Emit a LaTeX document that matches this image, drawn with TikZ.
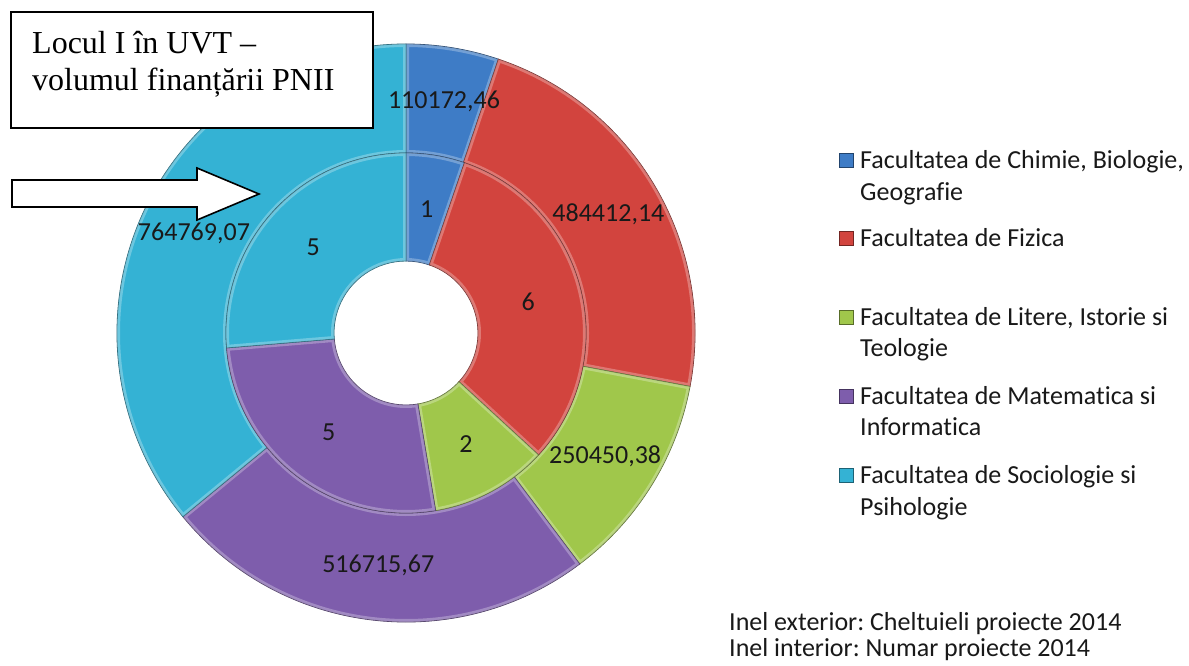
\documentclass[tikz,border=0pt]{standalone}
\usepackage{fontspec}
\setmainfont{Liberation Serif}
\newfontfamily\calfont[Ligatures=NoCommon]{Carlito}
\definecolor{cblue}{RGB}{62,124,198}
\definecolor{cred}{RGB}{210,68,62}
\definecolor{cgreen}{RGB}{160,199,75}
\definecolor{cpurple}{RGB}{126,93,172}
\definecolor{ccyan}{RGB}{52,178,212}
\frenchspacing
\begin{document}
\begin{tikzpicture}[x=1pt,y=1pt,
  lab/.style={font=\calfont\fontsize{26}{31}\selectfont, text=black!90, inner sep=0},
  leg/.style={font=\calfont\fontsize{26}{31}\selectfont, text=black!90, inner sep=0, anchor=base west},
  mk/.style={minimum size=14, inner sep=0, draw=#1!55!black, fill=#1, line width=0.6},
  seg/.style={fill=#1, draw=#1!55!black, line width=0.8},
  bev/.style={draw=white, opacity=0.28, line width=6},
  ttl/.style={font=\fontsize{32}{37}\selectfont, inner sep=0, anchor=base west}]
\useasboundingbox (0,0) rectangle (1189,-665);
\fill[white] (0,0) rectangle (1189,-665);
% donut chart
\begin{scope}[shift={(406,-333)}]
  \foreach \a/\b/\c in {90/71.35/cblue, 71.35/-10.66/cred, -10.66/-53.06/cgreen, -53.06/-140.54/cpurple, -140.54/-270/ccyan} {
    \filldraw[seg=\c] (\a:180) arc[start angle=\a, end angle=\b, radius=180] -- (\b:289) arc[start angle=\b, end angle=\a, radius=289] -- cycle;
    \begin{scope}
      \clip (\a:180) arc[start angle=\a, end angle=\b, radius=180] -- (\b:289) arc[start angle=\b, end angle=\a, radius=289] -- cycle;
      \draw[bev] (\a:180) arc[start angle=\a, end angle=\b, radius=180] -- (\b:289) arc[start angle=\b, end angle=\a, radius=289] -- cycle;
    \end{scope}
  }
  \foreach \a/\b/\c in {90/71.05/cblue, 71.05/-42.63/cred, -42.63/-80.53/cgreen, -80.53/-175.26/cpurple, -175.26/-270/ccyan} {
    \filldraw[seg=\c] (\a:72) arc[start angle=\a, end angle=\b, radius=72] -- (\b:180) arc[start angle=\b, end angle=\a, radius=180] -- cycle;
    \begin{scope}
      \clip (\a:72) arc[start angle=\a, end angle=\b, radius=72] -- (\b:180) arc[start angle=\b, end angle=\a, radius=180] -- cycle;
      \draw[bev] (\a:72) arc[start angle=\a, end angle=\b, radius=72] -- (\b:180) arc[start angle=\b, end angle=\a, radius=180] -- cycle;
    \end{scope}
  }
  \foreach \a/\b/\t [count=\i] in {90/71.35/{110172,46}, 71.35/-10.66/{484412,14}, -10.66/-53.06/{250450,38}, -53.06/-140.54/{516715,67}, -140.54/-270/{764769,07}}
    \node[lab] (o\i) at ({(\a+\b)/2}:234.5) {\t};
  \foreach \a/\b/\t [count=\i] in {90/71.05/1, 71.05/-42.63/6, -42.63/-80.53/2, -80.53/-175.26/5, -175.26/-270/5}
    \node[lab] (n\i) at ({(\a+\b)/2}:126) {\t};
\end{scope}
% title box and arrow
\node[draw, line width=2, minimum width=362, minimum height=116, inner sep=0, fill=white] (box) at (192,-70) {};
\node[ttl] (t1) at (32,-53) {Locul I în UVT –};
\node[ttl] (t2) at (32,-90) {volumul finanțării PNII};
\draw[line width=1.6, fill=white, line join=miter] (12,-180) -- (197,-180) -- (197,-168) -- (259,-194) -- (197,-220) -- (197,-207) -- (12,-207) -- cycle;
% legend
\node[mk=cblue] (m1) at (846,-160.5) {};
\node[leg] (l1) at (860,-168) {Facultatea de Chimie, Biologie,};
\node[leg] (l1b) at (860,-200) {Geografie};
\node[mk=cred] (m2) at (846,-238.5) {};
\node[leg] (l2) at (860,-246) {Facultatea de Fizica};
\node[mk=cgreen] (m3) at (846,-317.5) {};
\node[leg] (l3) at (860,-325) {Facultatea de Litere, Istorie si};
\node[leg] (l3b) at (860,-356) {Teologie};
\node[mk=cpurple] (m4) at (846,-396.5) {};
\node[leg] (l4) at (860,-404) {Facultatea de Matematica si};
\node[leg] (l4b) at (860,-435) {Informatica};
\node[mk=ccyan] (m5) at (846,-475) {};
\node[leg] (l5) at (860,-483) {Facultatea de Sociologie si};
\node[leg] (l5b) at (860,-515) {Psihologie};
\node[leg] (b1) at (729,-630) {Inel exterior: Cheltuieli proiecte 2014};
\node[leg] (b2) at (729,-656) {Inel interior: Numar proiecte 2014};
\end{tikzpicture}
\end{document}
